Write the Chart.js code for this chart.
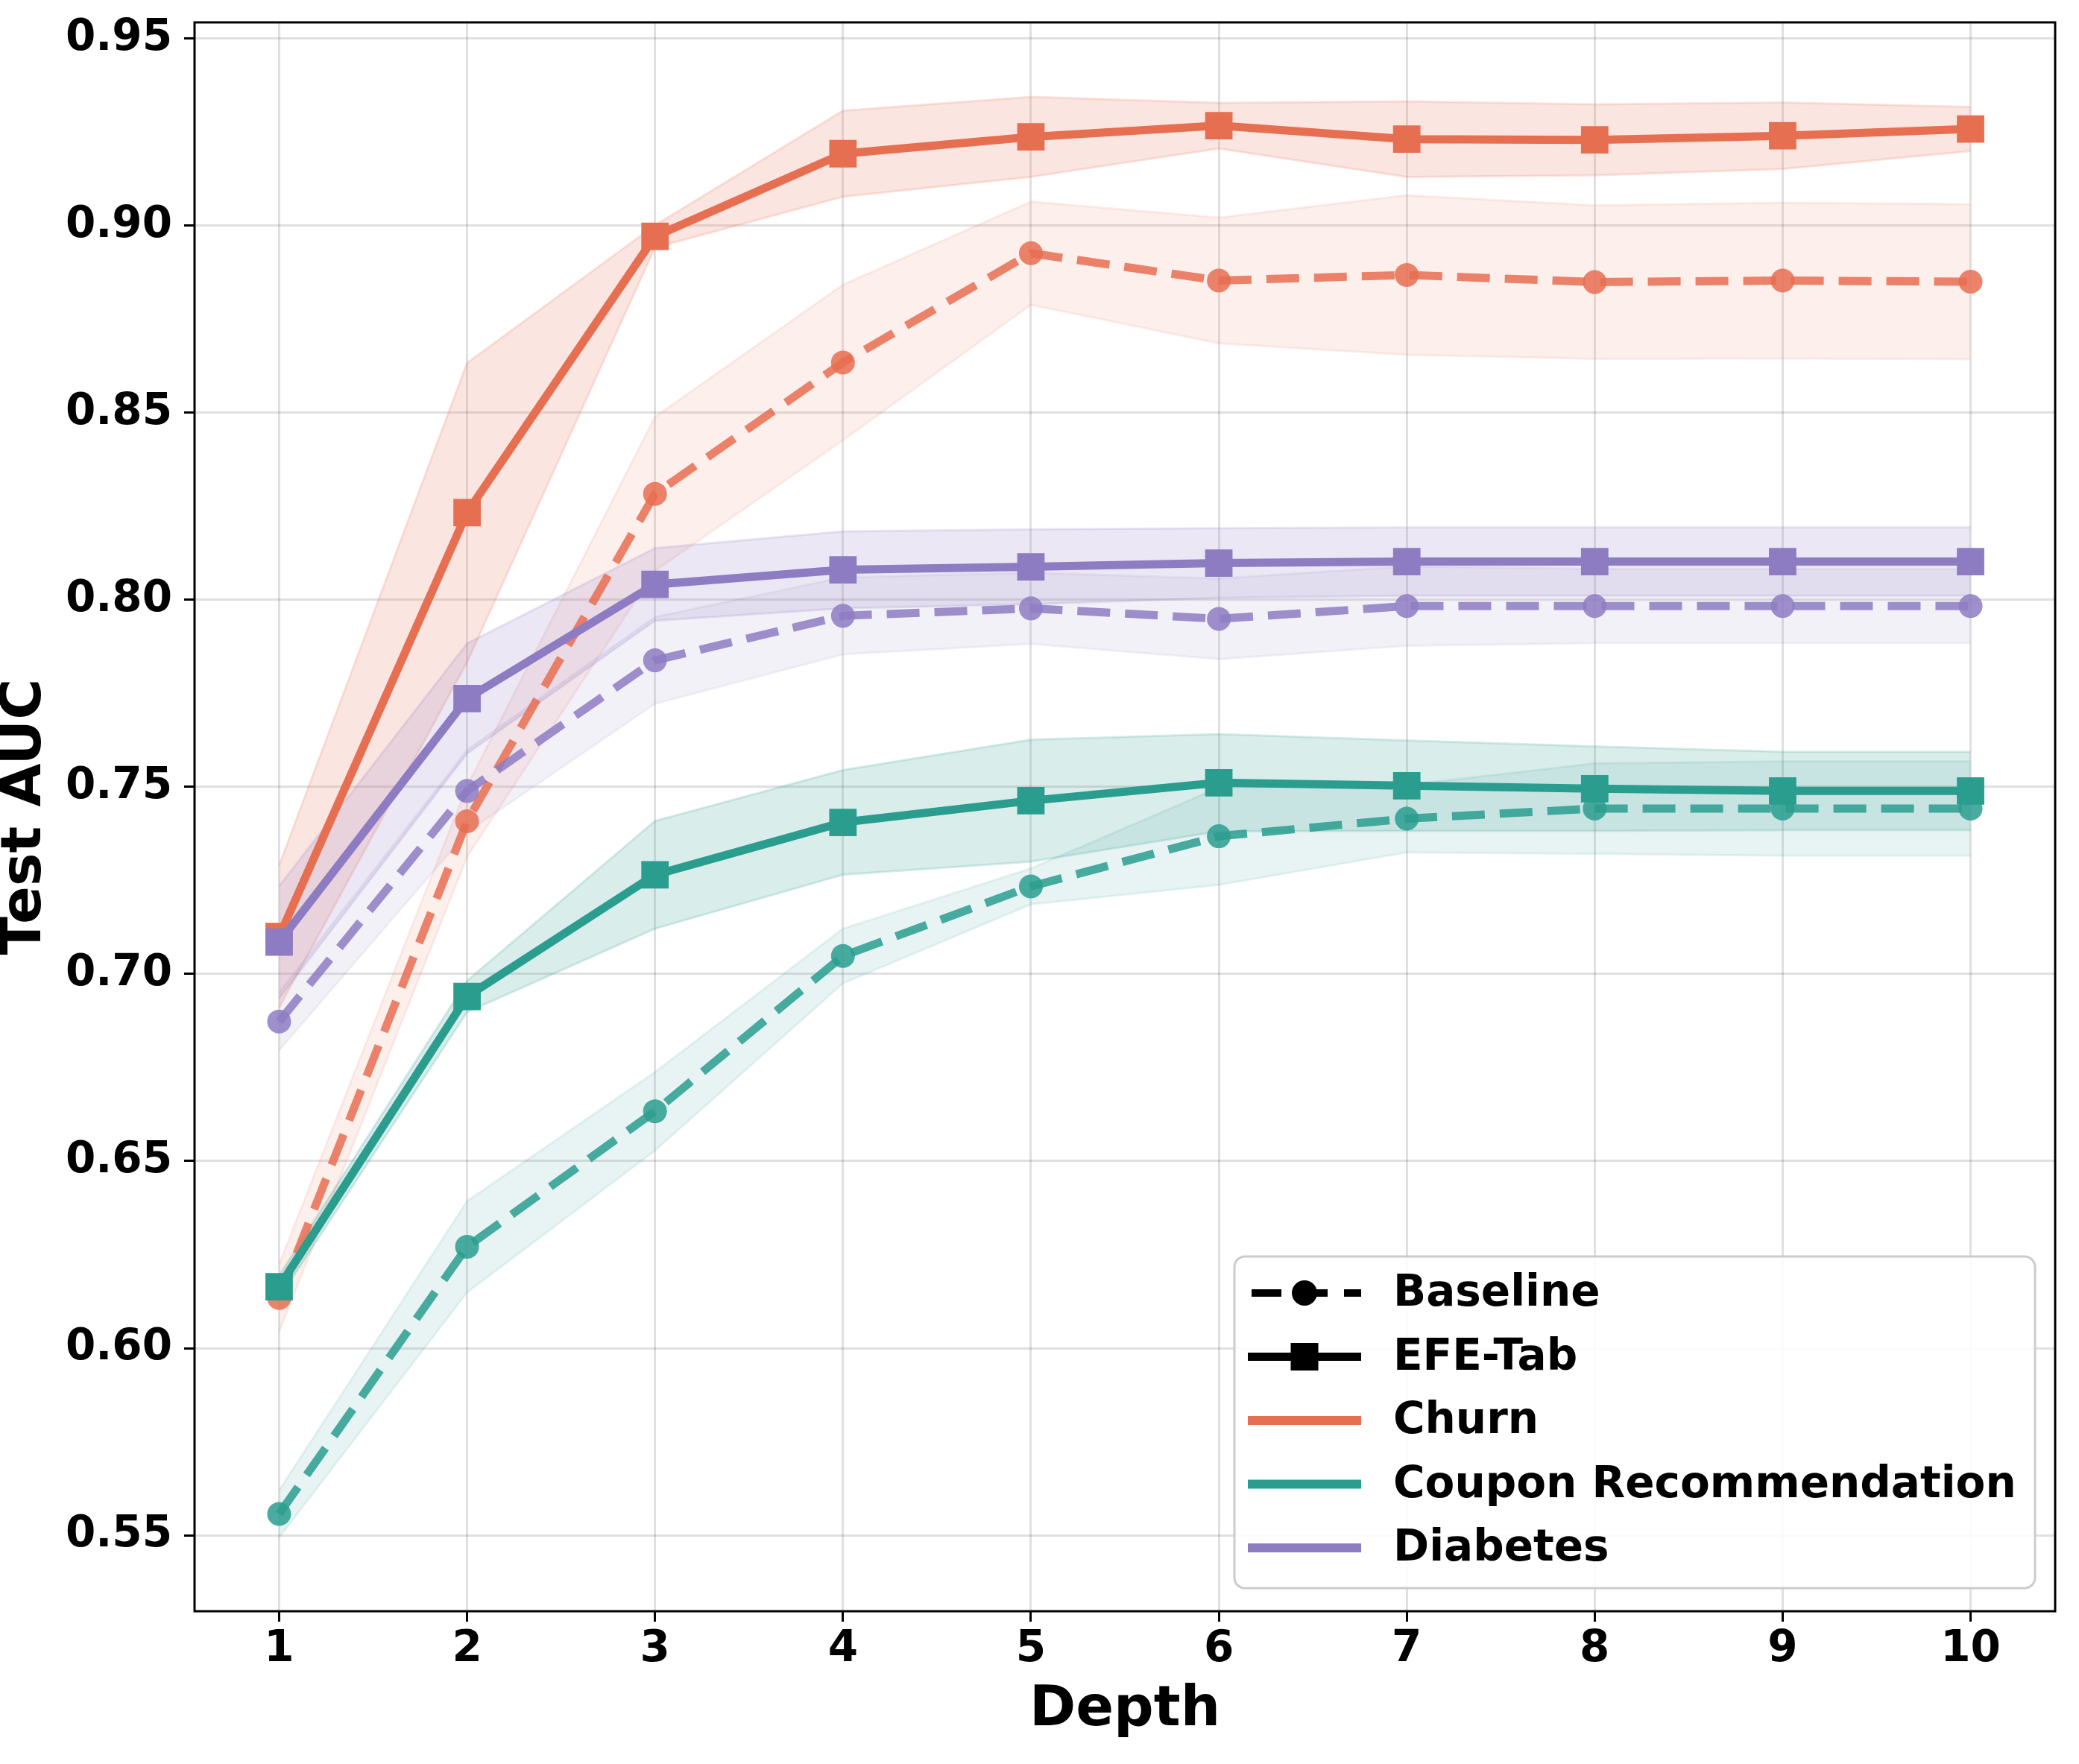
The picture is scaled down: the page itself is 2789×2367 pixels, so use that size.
<!DOCTYPE html>
<html>
<head>
<meta charset="utf-8">
<script src="https://cdn.jsdelivr.net/npm/chart.js@4.4.0/dist/chart.umd.min.js"></script>
<style>
  html, body { margin: 0; padding: 0; background: #fff; }
</style>
</head>
<body>
<canvas id="myChart" width="2789" height="2367"></canvas>
<script>
// depth values on the x axis
const depths = [1, 2, 3, 4, 5, 6, 7, 8, 9, 10];

// Churn
const churnBaseline    = [0.6134, 0.7408, 0.8283, 0.8634, 0.8926, 0.8853, 0.8868, 0.8849, 0.8853, 0.8850];
const churnBaselineStd = [0.0090, 0.0095, 0.0206, 0.0208, 0.0138, 0.0168, 0.0213, 0.0205, 0.0208, 0.0207];
const churnEfe         = [0.7100, 0.8233, 0.8971, 0.9192, 0.9237, 0.9267, 0.9231, 0.9229, 0.9240, 0.9258];
const churnEfeStd      = [0.0190, 0.0400, 0.0030, 0.0115, 0.0107, 0.0061, 0.0101, 0.0095, 0.0089, 0.0059];

// Coupon Recommendation
const couponBaseline    = [0.5557, 0.6271, 0.6633, 0.7048, 0.7234, 0.7368, 0.7415, 0.7442, 0.7442, 0.7442];
const couponBaselineStd = [0.0063, 0.0122, 0.0105, 0.0073, 0.0048, 0.0130, 0.0090, 0.0121, 0.0126, 0.0126];
const couponEfe         = [0.6164, 0.6940, 0.7265, 0.7405, 0.7463, 0.7511, 0.7503, 0.7495, 0.7489, 0.7489];
const couponEfeStd      = [0.0030, 0.0042, 0.0144, 0.0140, 0.0163, 0.0130, 0.0121, 0.0113, 0.0105, 0.0105];

// Diabetes
const diabetesBaseline    = [0.6873, 0.7489, 0.7838, 0.7957, 0.7977, 0.7949, 0.7983, 0.7983, 0.7983, 0.7983];
const diabetesBaselineStd = [0.0077, 0.0110, 0.0116, 0.0103, 0.0095, 0.0108, 0.0106, 0.0099, 0.0099, 0.0099];
const diabetesEfe         = [0.7085, 0.7736, 0.8041, 0.8080, 0.8088, 0.8098, 0.8102, 0.8102, 0.8102, 0.8102];
const diabetesEfeStd      = [0.0150, 0.0147, 0.0097, 0.0103, 0.0100, 0.0093, 0.0091, 0.0091, 0.0091, 0.0091];

const datasetNames  = ['Churn', 'Coupon Recommendation', 'Diabetes'];
const datasetColors = ['#E76F51', '#2A9D8F', '#8E7CC3'];
const methodNames   = ['Baseline', 'EFE-Tab'];
const yTickValues   = [0.55, 0.60, 0.65, 0.70, 0.75, 0.80, 0.85, 0.90, 0.95];

const groups = [
  { base: churnBaseline,    baseStd: churnBaselineStd,    efe: churnEfe,    efeStd: churnEfeStd },
  { base: couponBaseline,   baseStd: couponBaselineStd,   efe: couponEfe,   efeStd: couponEfeStd },
  { base: diabetesBaseline, baseStd: diabetesBaselineStd, efe: diabetesEfe, efeStd: diabetesEfeStd }
];

const FONT = 'DejaVu Sans';

function rgba(hex, a) {
  const n = parseInt(hex.slice(1), 16);
  return 'rgba(' + (n >> 16) + ',' + ((n >> 8) & 255) + ',' + (n & 255) + ',' + a + ')';
}

function pts(vals, std, sign) {
  return depths.map((d, i) => ({ x: d, y: vals[i] + sign * std[i] }));
}

// bands first (matplotlib draws collections under lines)
const ds = [];
groups.forEach((g, k) => {
  const col = datasetColors[k];
  [['base', 0.11], ['efe', 0.18]].forEach(([key, a]) => {
    const lowerIdx = ds.length + 1;
    ds.push({
      data: pts(g[key], g[key + 'Std'], 1),
      borderColor: rgba(col, a), backgroundColor: rgba(col, a),
      borderWidth: 3, pointRadius: 0, fill: { target: lowerIdx }
    });
    ds.push({
      data: pts(g[key], g[key + 'Std'], -1),
      borderColor: rgba(col, a), borderWidth: 3, pointRadius: 0, fill: false
    });
  });
});
groups.forEach((g, k) => {
  const col = datasetColors[k];
  ds.push({
    label: datasetNames[k] + ' ' + methodNames[0],
    data: depths.map((d, i) => ({ x: d, y: g.base[i] })),
    borderColor: rgba(col, 0.85), borderWidth: 11, borderDash: [44, 20],
    pointStyle: 'circle', pointRadius: 16, pointBorderWidth: 0,
    pointBackgroundColor: rgba(col, 0.85), fill: false
  });
  ds.push({
    label: datasetNames[k] + ' ' + methodNames[1],
    data: depths.map((d, i) => ({ x: d, y: g.efe[i] })),
    borderColor: col, borderWidth: 11,
    pointStyle: 'rect', pointRadius: 26, pointBorderWidth: 0,
    pointBackgroundColor: col, fill: false
  });
});
ds.forEach((d, i) => { d.order = ds.length - i; d.tension = 0; });

const framePlugin = {
  id: 'frame',
  afterDatasetsDraw(chart) {
    const { ctx, chartArea: a } = chart;
    ctx.save();
    ctx.strokeStyle = '#000';
    ctx.lineWidth = 3;
    ctx.strokeRect(a.left, a.top, a.right - a.left, a.bottom - a.top);
    ctx.restore();
  }
};

const legendPlugin = {
  id: 'mplLegend',
  afterDraw(chart) {
    const { ctx, chartArea: a } = chart;
    const w = 1074, h = 445;
    const x0 = a.right - 27 - w, y0 = a.bottom - 31 - h;
    ctx.save();
    ctx.beginPath();
    ctx.roundRect(x0, y0, w, h, 14);
    ctx.fillStyle = 'rgba(255,255,255,0.85)';
    ctx.fill();
    ctx.lineWidth = 3;
    ctx.strokeStyle = '#cccccc';
    ctx.stroke();

    const items = [
      { label: methodNames[0], color: '#000', kind: 'base' },
      { label: methodNames[1], color: '#000', kind: 'efe' }
    ];
    datasetNames.forEach((n, k) => items.push({ label: n, color: datasetColors[k], kind: 'plain' }));

    const hx0 = x0 + 18, hx1 = x0 + 170, hmid = (hx0 + hx1) / 2;
    items.forEach((it, i) => {
      const cy = y0 + 49 + i * 85.5;
      ctx.strokeStyle = it.color;
      ctx.fillStyle = it.color;
      ctx.beginPath();
      if (it.kind === 'base') {
        ctx.setLineDash([40, 22]);
        ctx.lineDashOffset = -5;
        ctx.lineWidth = 10;
      } else {
        ctx.setLineDash([]);
        ctx.lineWidth = it.kind === 'efe' ? 11 : 12;
      }
      ctx.moveTo(hx0, cy);
      ctx.lineTo(hx1, cy);
      ctx.stroke();
      ctx.setLineDash([]);
      if (it.kind === 'base') {
        ctx.beginPath();
        ctx.arc(hmid, cy, 17, 0, Math.PI * 2);
        ctx.fill();
      } else if (it.kind === 'efe') {
        ctx.fillRect(hmid - 18.5, cy - 18.5, 37, 37);
      }
      ctx.fillStyle = '#000';
      ctx.font = 'bold 58px "' + FONT + '"';
      ctx.textBaseline = 'middle';
      ctx.textAlign = 'left';
      ctx.fillText(it.label, x0 + 213, cy + 2);
    });
    ctx.restore();
  }
};

Chart.defaults.font.family = FONT;
Chart.defaults.font.weight = 'bold';
Chart.defaults.color = '#000';

const ctx = document.getElementById('myChart');
new Chart(ctx, {
  type: 'line',
  data: { datasets: ds },
  options: {
    responsive: false,
    animation: false,
    devicePixelRatio: 1,
    layout: { padding: { left: 0, top: 30, right: 32, bottom: 0 } },
    plugins: { legend: { display: false }, tooltip: { enabled: false } },
    scales: {
      x: {
        type: 'linear', min: 0.55, max: 10.45,
        afterBuildTicks(scale) { scale.ticks = depths.map(v => ({ value: v })); },
        ticks: { callback: v => String(v), font: { size: 58, weight: 'bold' }, padding: 3, autoSkip: false, maxRotation: 0 },
        grid: { color: 'rgba(0,0,0,0.12)', lineWidth: 3, tickColor: '#000', tickLength: 14, tickWidth: 3 },
        border: { display: false },
        title: { display: true, text: 'Depth', font: { size: 75, weight: 'bold' }, padding: { top: 0, bottom: 26 } },
        afterFit(scale) { scale.height = 205; scale.paddingLeft = 0; scale.paddingRight = 0; }
      },
      y: {
        type: 'linear', min: 0.5297, max: 0.9543,
        afterBuildTicks(scale) { scale.ticks = yTickValues.map(v => ({ value: v })); },
        ticks: { callback: v => v.toFixed(2), font: { size: 58, weight: 'bold' }, padding: 16 },
        grid: { color: 'rgba(0,0,0,0.12)', lineWidth: 3, tickColor: '#000', tickLength: 14, tickWidth: 3 },
        border: { display: false },
        title: { display: true, text: 'Test AUC', font: { size: 75, weight: 'bold' }, padding: { top: -10, bottom: 0 } },
        afterFit(scale) { scale.width = 261; scale.paddingTop = 0; scale.paddingBottom = 0; }
      }
    }
  },
  plugins: [framePlugin, legendPlugin]
});
</script>
</body>
</html>
